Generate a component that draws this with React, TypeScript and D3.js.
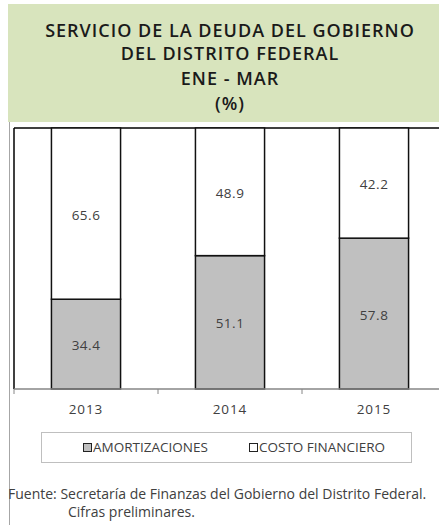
import React from "react";
import * as d3 from "d3";

const titleLines = ["SERVICIO DE LA DEUDA DEL GOBIERNO", "DEL DISTRITO FEDERAL", "ENE - MAR", "(%)"];
const years = ["2013", "2014", "2015"];
const amortizaciones = [34.4, 51.1, 57.8];
const costoFinanciero = [65.6, 48.9, 42.2];
const seriesNames = ["AMORTIZACIONES", "COSTO FINANCIERO"];
const footLines = ["Fuente: Secretaría de Finanzas del Gobierno del Distrito Federal.", "Cifras preliminares."];

const W = 439, H = 525;
const plotLeft = 14, plotTop = 128, plotBottom = 389, catWidth = 144;
const font = "'Open Sans', sans-serif";

export default function App() {
  const x = d3.scaleBand<string>().domain(years).range([plotLeft, plotLeft + catWidth * years.length]).paddingInner(0.52).paddingOuter(0.26);
  const y = d3.scaleLinear().domain([0, 100]).range([plotBottom, plotTop]);
  const stackData = years.map((yr, i) => ({ yr, a: amortizaciones[i], c: costoFinanciero[i] }));
  const stack = d3.stack<any>().keys(["a", "c"])(stackData);
  const fills = ["#c0c0c0", "#ffffff"];
  const titleBaselines = [37, 60, 85, 110];
  return (
    <div style={{ position: "fixed", left: 0, top: 0, width: W, height: H, background: "#fff" }}>
      <svg width={W} height={H} style={{ display: "block" }}>
        <rect x={8} y={4} width={W - 8} height={118} fill="#d8e4bd" />
        {titleLines.map((t, i) => (
          <text key={i} x={230} y={titleBaselines[i]} textAnchor="middle" fontFamily={font} fontWeight={600} fontSize={18} letterSpacing={1} fill="#1a1a1a">{t}</text>
        ))}
        <line x1={9.5} x2={9.5} y1={122} y2={H} stroke="#a6a6a6" strokeWidth={1} />
        {/* plot area border */}
        <line x1={plotLeft} x2={W} y1={plotTop} y2={plotTop} stroke="#000" strokeWidth={1.5} />
        <line x1={plotLeft} x2={plotLeft} y1={plotTop} y2={plotBottom} stroke="#000" strokeWidth={1.5} />
        {stack.map((layer, li) => (
          <g key={li}>
            {layer.map((d, i) => (
              <rect key={i} x={x(years[i])!} y={y(d[1])} width={x.bandwidth()} height={y(d[0]) - y(d[1])} fill={fills[li]} stroke="#111" strokeWidth={1.5} />
            ))}
          </g>
        ))}
        {stack.map((layer, li) => layer.map((d, i) => (
          <text key={`${li}-${i}`} x={x(years[i])! + x.bandwidth() / 2} y={(y(d[0]) + y(d[1])) / 2 + 6} textAnchor="middle" fontFamily={font} fontSize={13.5} letterSpacing={0.5} fill="#404040">
            {(li === 0 ? amortizaciones[i] : costoFinanciero[i]).toFixed(1)}
          </text>
        )))}
        {/* x axis */}
        <line x1={plotLeft} x2={W} y1={plotBottom} y2={plotBottom} stroke="#868686" strokeWidth={1.5} />
        {d3.range(years.length + 1).map((i) => (
          <line key={i} x1={plotLeft + i * catWidth} x2={plotLeft + i * catWidth} y1={plotBottom} y2={plotBottom + 5} stroke="#868686" strokeWidth={1} />
        ))}
        {years.map((yr) => (
          <text key={yr} x={x(yr)! + x.bandwidth() / 2} y={414} textAnchor="middle" fontFamily={font} fontSize={13.5} letterSpacing={0.9} fill="#404040">{yr}</text>
        ))}
        {/* legend */}
        <rect x={41.5} y={432.5} width={370} height={30} fill="#fff" stroke="#bfbfbf" strokeWidth={1} />
        <rect x={83.5} y={443.5} width={8} height={8} fill="#c0c0c0" stroke="#222" strokeWidth={1} />
        <text x={93} y={452} fontFamily={font} fontSize={13.5} fill="#404040">{seriesNames[0]}</text>
        <rect x={249.5} y={443.5} width={8} height={8} fill="#fff" stroke="#222" strokeWidth={1} />
        <text x={259} y={452} fontFamily={font} fontSize={13.5} fill="#404040">{seriesNames[1]}</text>
        {/* footer */}
        <text x={8} y={499} fontFamily={font} fontSize={14} fill="#404040">{footLines[0]}</text>
        <text x={68} y={517} fontFamily={font} fontSize={14} fill="#404040">{footLines[1]}</text>
      </svg>
    </div>
  );
}
